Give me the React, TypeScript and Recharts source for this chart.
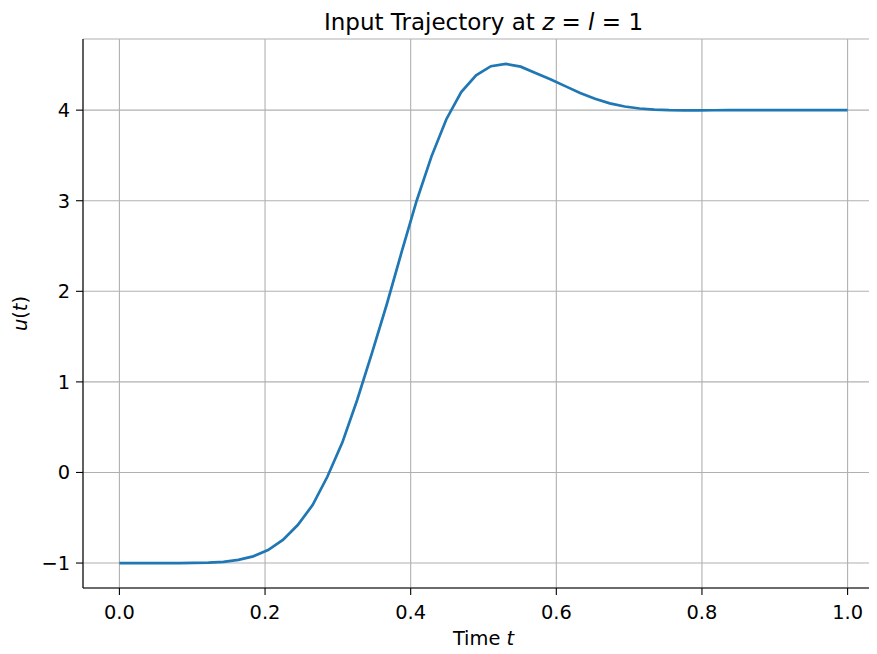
import React from 'react';
import { LineChart, Line, XAxis, YAxis, CartesianGrid } from 'recharts';

// time samples (50 points over [0, 1])
const timeValues = [
  0, 0.0204, 0.0408, 0.0612, 0.0816, 0.102, 0.1224, 0.1429, 0.1633, 0.1837,
  0.2041, 0.2245, 0.2449, 0.2653, 0.2857, 0.3061, 0.3265, 0.3469, 0.3673, 0.3878,
  0.4082, 0.4286, 0.449, 0.4694, 0.4898, 0.5102, 0.5306, 0.551, 0.5714, 0.5918,
  0.6122, 0.6327, 0.6531, 0.6735, 0.6939, 0.7143, 0.7347, 0.7551, 0.7755, 0.7959,
  0.8163, 0.8367, 0.8571, 0.8776, 0.898, 0.9184, 0.9388, 0.9592, 0.9796, 1.0,
];

// input u(t)
const inputValues = [
  -1, -1, -1, -1, -1, -0.999, -0.996, -0.987, -0.965, -0.926,
  -0.857, -0.745, -0.58, -0.36, -0.045, 0.33, 0.8, 1.32, 1.86, 2.44,
  3.0, 3.49, 3.9, 4.2, 4.385, 4.485, 4.51, 4.48, 4.41, 4.34,
  4.265, 4.19, 4.125, 4.075, 4.04, 4.018, 4.006, 4.0, 3.998, 3.998,
  3.999, 4, 4, 4, 4, 4, 4, 4, 4, 4,
];

const xTicks = [0, 0.2, 0.4, 0.6, 0.8, 1.0];
const yTicks = [-1, 0, 1, 2, 3, 4];

const data = timeValues.map((t, i) => ({ t, u: inputValues[i] }));

const FONT = '"DejaVu Sans", sans-serif';
const minus = (v: number) => String(v).replace('-', '\u2212');

const XLabel = (props: any) => {
  const { x, y, width } = props.viewBox;
  // centred on the full axes width (its right end is cropped off the figure)
  return (
    <text x={x + width / 2} y={y + 57} textAnchor="middle" fontFamily={FONT} fontSize={19.4} fill="#000">
      Time <tspan fontStyle="italic">t</tspan>
    </text>
  );
};

const YLabel = (props: any) => {
  const cx = 19;
  const cy = props.viewBox.y + props.viewBox.height / 2;
  return (
    <text x={cx} y={cy} transform={`rotate(-90 ${cx} ${cy})`} textAnchor="middle" fontFamily={FONT} fontSize={19.4} fill="#000">
      <tspan fontStyle="italic">u</tspan>(<tspan fontStyle="italic">t</tspan>)
    </text>
  );
};

export default function App() {
  return (
    <div style={{ position: 'relative', width: 869, height: 646, marginBottom: -8 }}>
      <LineChart
        width={869}
        height={646}
        data={data}
        margin={{ top: 31, right: -7, left: 0, bottom: 0 }}
      >
        <CartesianGrid stroke="#b0b0b0" strokeWidth={1.1} />
        <XAxis
          dataKey="t"
          type="number"
          domain={[-0.05, 1.05]}
          ticks={xTicks}
          allowDataOverflow
          height={66}
          tickFormatter={(v: number) => v.toFixed(1)}
          tick={{ fontFamily: FONT, fontSize: 19.4, fill: '#000' }}
          tickSize={7}
          tickMargin={10}
          axisLine={{ stroke: '#000', strokeWidth: 1.1 }}
          tickLine={{ stroke: '#000', strokeWidth: 1.1 }}
          label={<XLabel />}
        />
        <XAxis
          xAxisId="top"
          orientation="top"
          dataKey="t"
          type="number"
          domain={[-0.05, 1.05]}
          height={0}
          tick={false}
          tickLine={false}
          axisLine={{ stroke: '#000', strokeWidth: 1.1 }}
        />
        <YAxis
          type="number"
          domain={[-1.2755, 4.7855]}
          ticks={yTicks}
          allowDataOverflow
          width={75}
          tickFormatter={minus}
          tick={{ fontFamily: FONT, fontSize: 19.4, fill: '#000' }}
          tickSize={7}
          tickMargin={6}
          axisLine={{ stroke: '#000', strokeWidth: 1.1 }}
          tickLine={{ stroke: '#000', strokeWidth: 1.1 }}
          label={<YLabel />}
        />
        <Line
          type="linear"
          dataKey="u"
          stroke="#1f77b4"
          strokeWidth={2.7}
          dot={false}
          isAnimationActive={false}
        />
      </LineChart>
      <svg width={861} height={60} style={{ position: 'absolute', left: 0, top: 0 }}>
        <text x={475.5} y={21.5} textAnchor="middle" fontFamily={FONT} fontSize={23} fill="#000">
          Input Trajectory at <tspan fontStyle="italic">z</tspan> = <tspan fontStyle="italic">l</tspan> = 1
        </text>
      </svg>
    </div>
  );
}
